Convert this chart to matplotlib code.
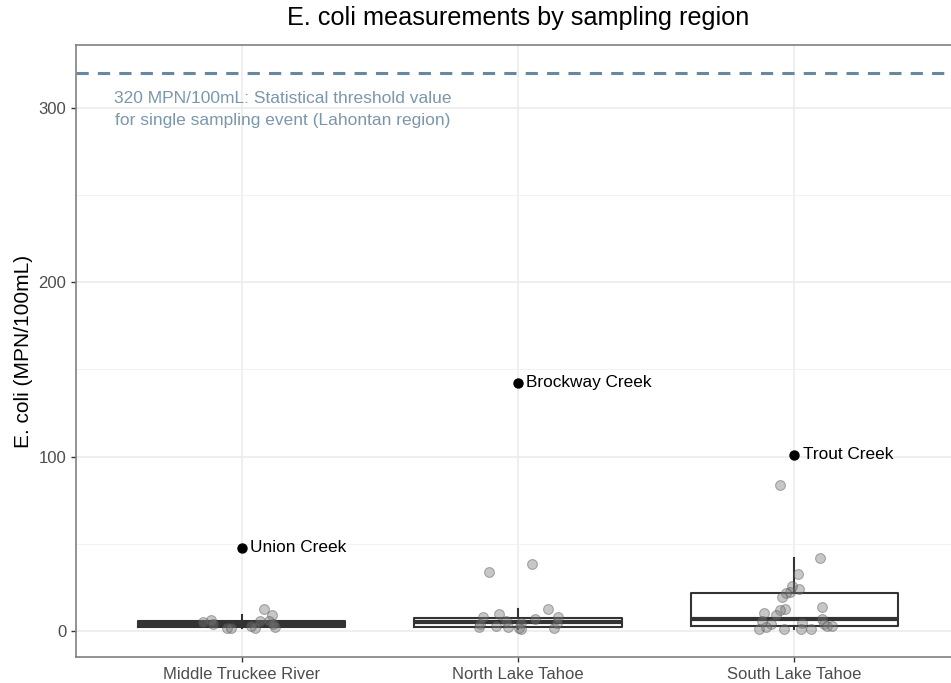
import matplotlib.pyplot as plt
from matplotlib.ticker import MultipleLocator

plt.rcParams['font.family'] = ['Liberation Sans', 'DejaVu Sans']

regions = ['Middle Truckee River', 'North Lake Tahoe', 'South Lake Tahoe']

# jittered sample values (MPN/100mL) and their horizontal jitter
middle_vals = [6.2, 3.7, 4.9, 1.4, 1.4, 1.4, 3.1, 5.6, 12.3, 8.9, 5.6, 2.2, 3.7]
middle_jit = [-0.11, -0.105, -0.14, -0.055, -0.04, 0.047, 0.035, 0.065, 0.08, 0.11, 0.10, 0.12, 0.112]

north_vals = [33.5, 38.3, 12.3, 9.8, 7.9, 7.9, 6.6, 5.6, 4.7, 3.7, 3.1, 2.2, 1.8, 2.2, 1.4, 4.7, 0.9]
north_jit = [-0.105, 0.05, 0.107, -0.07, 0.146, -0.128, 0.063, -0.043, 0.011, -0.138, -0.08, -0.037, 0.005, -0.14, 0.13, 0.14, 0.011]

south_vals = [83.9, 41.7, 32.7, 24.3, 25.6, 22.2, 21.5, 19.4, 12.3, 11.9, 13.6, 10.0, 9.1,
              5.6, 4.1, 1.3, 2.4, 1.3, 4.3, 1.3, 1.3, 6.6, 4.1, 2.7, 3.1]
south_jit = [-0.05, 0.094, 0.012, 0.019, -0.008, -0.017, -0.029, -0.045, -0.033, -0.053, 0.101, -0.109, -0.065,
             -0.117, -0.084, -0.126, -0.101, -0.036, 0.028, 0.025, 0.062, 0.1, 0.106, 0.12, 0.136]

# box statistics
q1 = [2.4, 2.2, 2.8]
med = [4.0, 5.0, 6.6]
q3 = [5.6, 7.6, 21.9]
whis_lo = [1.4, 0.9, 1.3]
whis_hi = [8.9, 12.3, 41.7]

# labelled maximum per region
top_names = ['Union Creek', 'Brockway Creek', 'Trout Creek']
top_vals = [47.8, 142.3, 101.0]

threshold = 320
threshold_text = '320 MPN/100mL: Statistical threshold value\nfor single sampling event (Lahontan region)'

fig = plt.figure(figsize=(9.51, 6.83), dpi=100)
ax = fig.add_axes([76 / 951, 1 - 657 / 683, 884 / 951, 612 / 683])

stats = []
for i in range(3):
    stats.append(dict(q1=q1[i], med=med[i], q3=q3[i], whislo=whis_lo[i], whishi=whis_hi[i], fliers=[]))
ax.bxp(stats, positions=[1, 2, 3], widths=0.75, showcaps=False, showfliers=False, manage_ticks=False,
       boxprops=dict(color='#333333', lw=1.5),
       whiskerprops=dict(color='#333333', lw=1.5),
       medianprops=dict(color='#333333', lw=3.0))

for i, (vals, jit) in enumerate([(middle_vals, middle_jit), (north_vals, north_jit), (south_vals, south_jit)]):
    xs = [i + 1 + j for j in jit]
    ax.scatter(xs, vals, s=50, facecolor='#7a7a7a', edgecolor='#4d4d4d', lw=0.8, alpha=0.42, zorder=3)

ax.scatter([1, 2, 3], top_vals, s=42, color='black', zorder=4)
for i in range(3):
    ax.annotate(top_names[i], (i + 1, top_vals[i]), xytext=(6, 0), textcoords='offset points',
                va='center', ha='left', fontsize=12.4, color='black')

ax.axhline(threshold, color='#6788a0', lw=2.2, linestyle=(0, (4, 3)))
ax.text(1.147, 299, threshold_text, ha='center', va='center', fontsize=12.5,
        color='#7b97ac', linespacing=1.65)

ax.set_xlim(0.4, 3.6)
ax.set_ylim(-14.95, 335.95)
ax.yaxis.set_major_locator(MultipleLocator(100))
ax.yaxis.set_minor_locator(MultipleLocator(50))
ax.set_xticks([1, 2, 3])
ax.set_xticklabels(regions)
ax.grid(True, which='major', color='#EBEBEB', lw=1.1)
ax.grid(True, which='minor', axis='y', color='#F2F2F2', lw=0.7)
ax.set_axisbelow(True)

for s in ax.spines.values():
    s.set_color('#808080')
    s.set_linewidth(1.2)

ax.tick_params(axis='both', which='major', length=3.6, width=1.0, color='#333333',
               labelcolor='#4D4D4D', labelsize=12)
ax.tick_params(axis='y', which='minor', length=0)
ax.set_ylabel('E. coli (MPN/100mL)', fontsize=15, color='black', labelpad=4)
fig.text(518 / 951, 1 - 18 / 683, 'E. coli measurements by sampling region', ha='center', va='center',
         fontsize=18.2, color='black')

fig.savefig('out.png', dpi=100)
